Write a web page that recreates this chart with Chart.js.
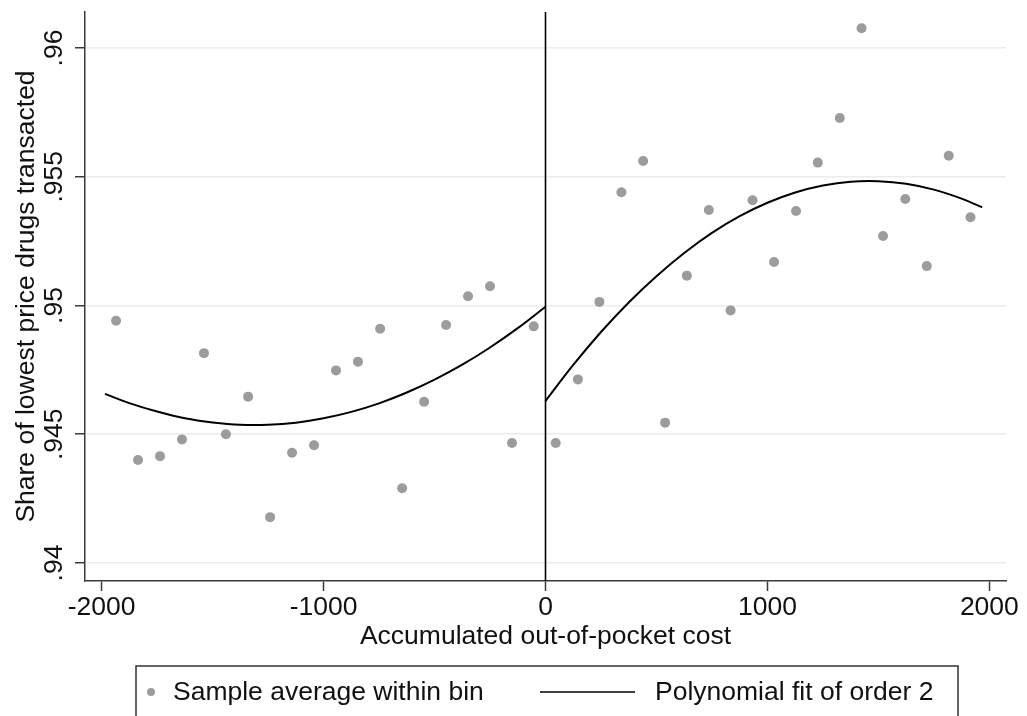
<!DOCTYPE html>
<html>
<head>
<meta charset="utf-8">
<script src="https://cdn.jsdelivr.net/npm/chart.js@4/dist/chart.umd.min.js"></script>
<style>
    html, body { margin: 0; padding: 0; background: #fff; }
    canvas { display: block; }
</style>
</head>
<body>
<canvas id="rdChart" width="1027" height="716"></canvas>
<script>
// Bin centres and average share within each bin
const binX = [
    -1935, -1836, -1737, -1638, -1539, -1440, -1340, -1241, -1142, -1043,
    -944, -845, -745, -646, -547, -448, -349, -250, -151, -53,
    46, 146, 243, 342, 440, 539, 637, 736, 834, 933,
    1030, 1129, 1227, 1326, 1424, 1521, 1621, 1718, 1817, 1915
];
const binShare = [
    0.94941, 0.9440, 0.94415, 0.9448, 0.94815, 0.9450, 0.94646, 0.94178, 0.94428, 0.94457,
    0.94748, 0.94782, 0.9491, 0.9429, 0.94626, 0.94924, 0.95036, 0.95075, 0.94466, 0.94919,
    0.94466, 0.94713, 0.95014, 0.9544, 0.95561, 0.94545, 0.95116, 0.95371, 0.94981, 0.95409,
    0.95169, 0.95367, 0.95555, 0.95728, 0.96077, 0.9527, 0.95414, 0.95153, 0.95582, 0.95343
];

const fitLeftX = [-1985, -1875, -1750, -1625, -1500, -1375, -1250, -1125, -1000, -875, -750, -625, -500, -375, -250, -125, 0];
const fitLeftY = [0.94657, 0.94621, 0.94588, 0.94562, 0.94546, 0.94537, 0.94537, 0.94545, 0.94562, 0.94587, 0.94620, 0.94662, 0.94712, 0.94770, 0.94837, 0.94912, 0.94995];
const fitRightX = [0, 125, 250, 375, 500, 625, 750, 875, 1000, 1125, 1250, 1375, 1500, 1625, 1750, 1875, 1968];
const fitRightY = [0.94629, 0.94769, 0.94897, 0.95012, 0.95114, 0.95204, 0.95282, 0.95347, 0.95399, 0.95439, 0.95466, 0.95481, 0.95483, 0.95473, 0.95450, 0.95415, 0.95381];

const cutoff = 0;
const xTicks = [-2000, -1000, 0, 1000, 2000];
const xTickLabels = ['-2000', '-1000', '0', '1000', '2000'];
const yTicks = [0.94, 0.945, 0.95, 0.955, 0.96];
const yTickLabels = ['.94', '.945', '.95', '.955', '.96'];

const FONT = "'Liberation Sans', Arial, Helvetica, sans-serif";
const DOT_COLOR = '#9c9c9c';
const AXIS_COLOR = '#3a3a3a';

Chart.defaults.font.family = FONT;
Chart.defaults.font.size = 26.5;
Chart.defaults.color = '#111';

function toPoints(xs, ys) {
    return xs.map((x, i) => ({ x: x, y: ys[i] }));
}

// Cutoff line, rotated y tick labels and the boxed legend
const decorations = {
    id: 'decorations',
    beforeDatasetsDraw(chart) {
        const { ctx, chartArea, scales } = chart;
        const px = scales.x.getPixelForValue(cutoff);
        ctx.save();
        ctx.strokeStyle = '#000';
        ctx.lineWidth = 1.6;
        ctx.beginPath();
        ctx.moveTo(px, chartArea.top);
        ctx.lineTo(px, chartArea.bottom);
        ctx.stroke();
        ctx.restore();
    },
    afterDraw(chart) {
        const { ctx, scales } = chart;
        ctx.save();
        ctx.font = '26.5px ' + FONT;
        ctx.fillStyle = '#111';
        ctx.textAlign = 'center';
        ctx.textBaseline = 'middle';
        yTicks.forEach((v, i) => {
            const py = scales.y.getPixelForValue(v);
            ctx.save();
            ctx.translate(55, py);
            ctx.rotate(-Math.PI / 2);
            ctx.fillText(yTickLabels[i], 0, 0);
            ctx.restore();
        });

        // legend box
        ctx.strokeStyle = '#333';
        ctx.lineWidth = 1.5;
        ctx.strokeRect(136, 666, 822, 60);

        ctx.fillStyle = DOT_COLOR;
        ctx.beginPath();
        ctx.arc(151, 692, 4, 0, Math.PI * 2);
        ctx.fill();

        ctx.strokeStyle = '#000';
        ctx.lineWidth = 1.6;
        ctx.beginPath();
        ctx.moveTo(540, 692);
        ctx.lineTo(635, 692);
        ctx.stroke();

        ctx.fillStyle = '#111';
        ctx.textAlign = 'left';
        ctx.fillText(chart.data.datasets[0].label, 173, 693);
        ctx.fillText(chart.data.datasets[1].label, 655, 693);
        ctx.restore();
    }
};

function renderChart() {
    const ctx = document.getElementById('rdChart').getContext('2d');
    new Chart(ctx, {
        type: 'scatter',
        data: {
            datasets: [
                {
                    label: 'Sample average within bin',
                    data: toPoints(binX, binShare),
                    backgroundColor: DOT_COLOR,
                    borderWidth: 0,
                    pointRadius: 5,
                    order: 1
                },
                {
                    label: 'Polynomial fit of order 2',
                    data: toPoints(fitLeftX, fitLeftY),
                    showLine: true,
                    borderColor: '#000',
                    borderWidth: 2,
                    pointRadius: 0,
                    tension: 0.4,
                    order: 0
                },
                {
                    label: 'Polynomial fit of order 2 (right)',
                    data: toPoints(fitRightX, fitRightY),
                    showLine: true,
                    borderColor: '#000',
                    borderWidth: 2,
                    pointRadius: 0,
                    tension: 0.4,
                    order: 0
                }
            ]
        },
        options: {
            responsive: false,
            animation: false,
            devicePixelRatio: 1,
            layout: { padding: { left: 0, right: 21, top: 12, bottom: 0 } },
            plugins: {
                legend: { display: false },
                tooltip: { enabled: false }
            },
            scales: {
                x: {
                    type: 'linear',
                    min: -2075,
                    max: 2075,
                    afterBuildTicks: (scale) => { scale.ticks = xTicks.map(v => ({ value: v })); },
                    afterFit: (scale) => { scale.height = 135; },
                    grid: {
                        drawOnChartArea: false,
                        drawTicks: true,
                        tickLength: 10,
                        tickColor: AXIS_COLOR,
                        tickWidth: 1.5
                    },
                    border: { color: AXIS_COLOR, width: 1.5 },
                    ticks: {
                        padding: 1,
                        maxRotation: 0,
                        autoSkip: false,
                        color: '#111',
                        callback: (value, index) => xTickLabels[index]
                    },
                    title: {
                        display: true,
                        text: 'Accumulated out-of-pocket cost',
                        color: '#111',
                        padding: { top: 0, bottom: 63 }
                    }
                },
                y: {
                    type: 'linear',
                    min: 0.9393,
                    max: 0.9614,
                    afterBuildTicks: (scale) => { scale.ticks = yTicks.map(v => ({ value: v })); },
                    afterFit: (scale) => { scale.width = 85; },
                    grid: {
                        color: '#e6eef1',
                        lineWidth: 1.5,
                        drawTicks: true,
                        tickLength: 10,
                        tickColor: AXIS_COLOR,
                        tickWidth: 1.5
                    },
                    border: { color: AXIS_COLOR, width: 1.5 },
                    ticks: { display: false },
                    title: {
                        display: true,
                        text: 'Share of lowest price drugs transacted',
                        color: '#111',
                        padding: { top: 11, bottom: 0 }
                    }
                }
            }
        },
        plugins: [decorations]
    });
}

document.addEventListener('DOMContentLoaded', renderChart);
</script>
</body>
</html>
